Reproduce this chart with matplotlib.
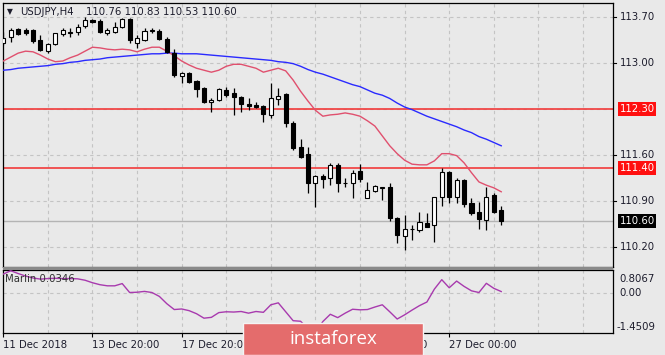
import matplotlib
matplotlib.use("Agg")
import matplotlib.pyplot as plt
from matplotlib.patches import Rectangle
import matplotlib.transforms as mtransforms

## candle data, USDJPY H4
opens = [113.30, 113.40, 113.52, 113.50, 113.50, 113.35, 113.18, 113.29, 113.44, 113.46,
         113.47, 113.56, 113.65, 113.64, 113.46, 113.47, 113.55, 113.67, 113.30, 113.35,
         113.49, 113.49, 113.37, 113.15, 112.80, 112.85, 112.73, 112.62, 112.41, 112.44,
         112.59, 112.54, 112.48, 112.38, 112.36, 112.35, 112.21, 112.45, 112.53, 112.09,
         111.72, 111.61, 111.17, 111.28, 111.25, 111.45, 111.17, 111.17, 111.36, 110.94,
         111.05, 111.10, 111.11, 110.64, 110.37, 110.47, 110.46, 110.57, 110.53, 110.96,
         111.34, 110.96, 111.22, 110.87, 110.73, 110.61, 110.99, 110.76]
highs = [113.47, 113.53, 113.53, 113.53, 113.52, 113.43, 113.30, 113.46, 113.53, 113.53,
         113.59, 113.70, 113.67, 113.67, 113.53, 113.62, 113.68, 113.68, 113.43, 113.53,
         113.53, 113.52, 113.40, 113.21, 112.86, 112.86, 112.74, 112.63, 112.47, 112.62,
         112.63, 112.62, 112.50, 112.47, 112.41, 112.36, 112.70, 112.62, 112.54, 112.12,
         111.84, 111.72, 111.30, 111.31, 111.48, 111.48, 111.25, 111.37, 111.46, 111.19,
         111.14, 111.11, 111.17, 110.66, 110.69, 110.53, 110.73, 110.72, 110.96, 111.40,
         111.36, 111.25, 111.23, 110.94, 110.88, 111.11, 111.02, 110.83]
lows = [113.27, 113.32, 113.43, 113.43, 113.30, 113.18, 113.15, 113.27, 113.41, 113.40,
        113.43, 113.53, 113.61, 113.46, 113.43, 113.46, 113.53, 113.30, 113.23, 113.33,
        113.46, 113.35, 113.15, 112.79, 112.70, 112.70, 112.48, 112.39, 112.25, 112.42,
        112.48, 112.21, 112.25, 112.29, 112.32, 112.10, 112.16, 112.36, 112.03, 111.68,
        111.55, 111.02, 110.81, 111.10, 111.14, 111.04, 111.11, 110.95, 111.19, 110.94,
        111.03, 110.92, 110.59, 110.26, 110.15, 110.31, 110.43, 110.51, 110.28, 110.82,
        110.87, 110.87, 110.81, 110.69, 110.48, 110.46, 110.72, 110.53]
closes = [113.38, 113.50, 113.44, 113.46, 113.33, 113.20, 113.29, 113.46, 113.50, 113.47,
          113.55, 113.65, 113.62, 113.47, 113.50, 113.55, 113.67, 113.35, 113.38, 113.49,
          113.49, 113.37, 113.17, 112.82, 112.85, 112.71, 112.60, 112.41, 112.44, 112.60,
          112.51, 112.48, 112.38, 112.35, 112.33, 112.22, 112.47, 112.50, 112.09, 111.71,
          111.57, 111.17, 111.28, 111.23, 111.45, 111.17, 111.17, 111.33, 111.23, 111.07,
          111.13, 111.10, 110.64, 110.38, 110.47, 110.48, 110.58, 110.51, 110.96, 111.34,
          110.96, 111.22, 110.86, 110.72, 110.62, 110.96, 110.73, 110.60]

## moving averages
ma_fast = [113.03, 113.09, 113.15, 113.18, 113.17, 113.12, 113.06, 113.02, 113.03, 113.08,
           113.12, 113.18, 113.24, 113.23, 113.21, 113.20, 113.21, 113.20, 113.17, 113.21,
           113.24, 113.24, 113.18, 113.11, 113.03, 112.97, 112.92, 112.89, 112.86, 112.89,
           112.95, 112.98, 112.98, 112.95, 112.92, 112.86, 112.89, 112.92, 112.88, 112.74,
           112.57, 112.42, 112.28, 112.19, 112.21, 112.22, 112.24, 112.22, 112.19, 112.12,
           112.04, 111.89, 111.74, 111.62, 111.52, 111.46, 111.45, 111.45, 111.51, 111.62,
           111.62, 111.59, 111.48, 111.33, 111.19, 111.14, 111.10, 111.04]
ma_slow = [112.89, 112.90, 112.92, 112.93, 112.94, 112.95, 112.96, 112.98, 112.99, 113.01,
           113.02, 113.04, 113.05, 113.06, 113.08, 113.09, 113.10, 113.11, 113.12, 113.13,
           113.14, 113.14, 113.15, 113.15, 113.14, 113.14, 113.14, 113.13, 113.12, 113.11,
           113.10, 113.09, 113.08, 113.07, 113.06, 113.05, 113.04, 113.02, 113.01, 112.99,
           112.95, 112.90, 112.86, 112.83, 112.79, 112.75, 112.71, 112.67, 112.64, 112.59,
           112.54, 112.51, 112.46, 112.39, 112.33, 112.29, 112.24, 112.19, 112.15, 112.11,
           112.07, 112.03, 111.98, 111.94, 111.88, 111.84, 111.79, 111.74]

## Marlin oscillator
marlin = [0.66, 0.78, 0.68, 0.59, 0.52, 0.48, 0.50, 0.51, 0.50, 0.50,
          0.49, 0.44, 0.35, 0.28, 0.24, 0.24, 0.32, 0.00, 0.01, 0.04,
          0.00, -0.14, -0.40, -0.61, -0.59, -0.65, -0.76, -0.92, -0.89, -0.72,
          -0.69, -0.70, -0.68, -0.74, -0.68, -0.71, -0.44, -0.37, -0.69, -1.01,
          -1.03, -1.30, -1.45, -1.04, -0.78, -0.90, -0.74, -0.60, -0.62, -0.61,
          -0.52, -0.44, -0.69, -0.95, -0.80, -0.63, -0.47, -0.34, 0.12, 0.46,
          0.17, 0.41, 0.22, 0.06, 0.00, 0.33, 0.15, 0.0346]

levels = [112.30, 111.40]
last_price = 110.60
price_ticks = [113.70, 113.00, 111.60, 110.90, 110.20]
grid_prices = [113.70, 113.00, 112.30, 111.60, 110.90, 110.20]
time_pos = [0, 12, 24, 48, 60]
time_labels = ["11 Dec 2018", "13 Dec 20:00", "17 Dec 20:00", "21 Dec 20:00", "27 Dec 00:00"]
marlin_max = 0.8067
marlin_min = -1.4509

BG = "#e9e9e9"
GRID = "#c4c4c4"
TXT = "#1c1c2c"
FS = 7.3

fig = plt.figure(figsize=(6.65, 3.55), dpi=100, facecolor=BG)
W, H = 665.0, 355.0

def box(x0, y0, x1, y1):
  return [x0 / W, 1 - y1 / H, (x1 - x0) / W, (y1 - y0) / H]

ax = fig.add_axes(box(3, 3, 612.7, 267))
ax2 = fig.add_axes(box(3, 270, 612.7, 333))

n = len(closes)
xs = list(range(n))

for a in (ax, ax2):
  a.set_facecolor(BG)
  a.set_xlim(-0.04, 82.0)
  for s in a.spines.values():
    s.set_color("black")
    s.set_linewidth(0.9)
  for gx in range(6, 82, 6):
    a.axvline(gx, color=GRID, lw=0.8, ls=(0, (3, 3)), zorder=0)
  a.set_yticks([])

## main panel
ax.set_ylim(109.895, 113.913)
for gp in grid_prices:
  ax.axhline(gp, color=GRID, lw=0.8, ls=(0, (3, 3)), zorder=0)
ax.axhline(last_price, color="#b4b4b4", lw=1.0, zorder=1)
for lv in levels:
  ax.axhline(lv, color="#f23a3a", lw=1.2, zorder=2)

ax.plot(xs, ma_slow, color="#2a2aff", lw=1.0, zorder=3)
ax.plot(xs, ma_fast, color="#e0506e", lw=1.0, zorder=3)

ax.vlines(xs, lows, highs, color="black", lw=0.9, zorder=4)
for i in xs:
  o, c = opens[i], closes[i]
  lo, hgt = min(o, c), max(abs(c - o), 0.008)
  fc = "white" if c >= o else "black"
  ax.bar(i, hgt, bottom=lo, width=0.55, color=fc, edgecolor="black", lw=0.8, zorder=5)

ax.set_xticks([])

## right price scale
tr = mtransforms.blended_transform_factory(ax.transAxes, ax.transData)
for p in price_ticks:
  ax.text(1.011, p, "%.2f" % p, transform=tr, fontsize=FS, color=TXT, va="center", ha="left")
  ax.plot([1.0, 1.006], [p, p], transform=tr, color="black", lw=0.8, clip_on=False)
for lv in levels:
  ax.text(1.011, lv, "%.2f" % lv, transform=tr, fontsize=FS, color="white", va="center",
          ha="left", bbox=dict(boxstyle="square,pad=0.18", fc="#ff1010", ec="none"))
ax.text(1.011, last_price, "%.2f" % last_price, transform=tr, fontsize=FS, color="white",
        va="center", ha="left", bbox=dict(boxstyle="square,pad=0.18", fc="black", ec="none"))

## title
fig.text(7 / W, 1 - 12 / H, u"\u25bc", fontsize=5.5, color=TXT, va="center", ha="left")
fig.text(20 / W, 1 - 12 / H, "USDJPY,H4", fontsize=FS, color=TXT, va="center", ha="left")
fig.text(86 / W, 1 - 12 / H, "110.76 110.83 110.53 110.60", fontsize=FS, color=TXT,
         va="center", ha="left")

## indicator panel
ax2.set_ylim(marlin_min, marlin_max)
ax2.axhline(0, color=GRID, lw=0.8, ls=(0, (3, 3)), zorder=0)
ax2.plot(xs, marlin, color="#a83aae", lw=1.0, zorder=3)
ax2.text(0.004, 0.86, "Marlin 0.0346", transform=ax2.transAxes, fontsize=FS, color="#303030",
         va="center", ha="left")
ax2.text(1.011, 0.86, "%.4f" % marlin_max, transform=ax2.transAxes, fontsize=FS, color=TXT,
         va="center", ha="left")
tr2 = mtransforms.blended_transform_factory(ax2.transAxes, ax2.transData)
ax2.text(1.011, 0.0, "0.00", transform=tr2, fontsize=FS, color=TXT, va="center", ha="left")
ax2.text(1.006, 0.10, "%.4f" % marlin_min, transform=ax2.transAxes, fontsize=FS, color=TXT,
         va="center", ha="left")

ax2.set_xticks(time_pos)
ax2.set_xticklabels(time_labels, fontsize=FS, color=TXT, ha="left")
ax2.tick_params(axis="x", length=3, width=0.8, pad=2, color="black")

## separator between panels
fig.patches.append(Rectangle((3 / W, 1 - 270 / H), 609.7 / W, 3 / H, transform=fig.transFigure,
                             fc="#8a8a8a", ec="none", zorder=2))

## watermark
fig.patches.append(Rectangle((243 / W, 0), 180 / W, 32 / H, transform=fig.transFigure,
                             fc="#e46c6c", ec="#f4f4f4", lw=1.0, zorder=5))
fig.text(333 / W, 1 - 339 / H, "instaforex", fontsize=13.5, color="white", family="Open Sans",
         ha="center", va="center", zorder=6)

fig.savefig("out.png", dpi=100, facecolor=BG)
print("Done")
